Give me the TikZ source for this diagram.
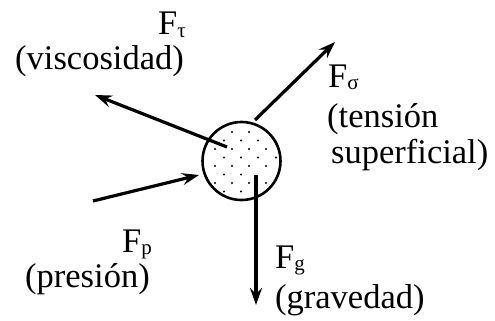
\documentclass[tikz,border=0pt]{standalone}
\usepackage{fontspec}
\setmainfont{Liberation Serif}
\usetikzlibrary{arrows.meta}
\newcommand{\fsub}[1]{F\raisebox{-2.5pt}{\fontsize{21}{21}\selectfont #1}}
\begin{document}
\begin{tikzpicture}[x=1pt,y=-1pt,
  force/.style={line width=3.2pt, -{Stealth[length=17pt,width=12pt,inset=6pt]}},
  lbl/.style={font=\fontsize{34.5}{36}\selectfont, inner sep=0pt, anchor=base west},
  dot/.style={fill=black, inner sep=0pt, minimum size=2.4pt, circle}]
\useasboundingbox (0,0) rectangle (495,321);
\node[circle, draw, line width=2.6pt, minimum size=78pt, inner sep=0pt] (ball) at (241.5,161) {};
% dots
\foreach \x/\y [count=\i] in {232/132,249/132,
  224/140.5,241/140.5,258/140.5,
  215/149,232/149,249/149,266/149,
  224/157.5,241/157.5,258/157.5,276/157.5,
  215/166,232/166,249/166,266/166,
  224/174.5,241/174.5,
  215/183,232/183,249/183,266/183,
  224/191.5,241/191.5}
  \node[dot] (d\i) at (\x,\y) {};
% end points
\coordinate (tauS) at (227,147);
\coordinate (tauE) at (95,95);
\coordinate (sigS) at (255,120);
\coordinate (sigE) at (335,42);
\coordinate (pS) at (93,201);
\coordinate (pE) at (199,175);
\coordinate (gS) at (256,175);
\coordinate (gE) at (256,305);
\draw[force] (tauS) -- (tauE);
\draw[force] (sigS) -- (sigE);
\draw[force] (pS) -- (pE);
\draw[force] (gS) -- (gE);
% labels
\node[lbl] (ftau) at (158,35) {\fsub{τ}};
\node[lbl] (visc) at (15,70) {(viscosidad)};
\node[lbl] (fsig) at (328,87) {\fsub{σ}};
\node[lbl] (tens) at (327,127) {(tensión};
\node[lbl] (sup) at (331,163) {superficial)};
\node[lbl] (fp) at (122,252) {\fsub{p}};
\node[lbl] (pres) at (25,287) {(presión)};
\node[lbl] (fg) at (275,268) {\fsub{g}};
\node[lbl] (grav) at (275,308) {(gravedad)};
\end{tikzpicture}
\end{document}
